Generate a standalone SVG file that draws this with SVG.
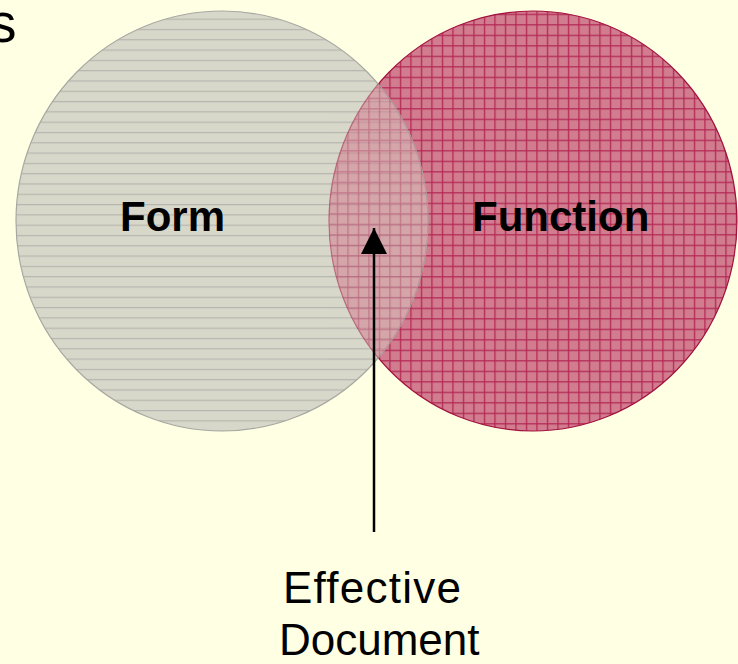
<svg xmlns="http://www.w3.org/2000/svg" width="738" height="664" viewBox="0 0 738 664">
<style>
.lbl{font-family:"Liberation Sans",Arial,sans-serif;fill:#000}
.bold{font-weight:bold;font-size:42px}
.reg{font-size:44px}
</style>
<defs>
<pattern id="hlines" patternUnits="userSpaceOnUse" x="0" y="8.3" width="20" height="10.3">
<rect width="20" height="10.3" fill="#D8D8CA"/>
<rect y="0" width="20" height="1.2" fill="#B6B6B0"/>
</pattern>
<pattern id="grid" patternUnits="userSpaceOnUse" x="0.8" y="3.2" width="10.5" height="10.5">
<rect width="10.5" height="10.5" fill="#D27D8F"/>
<rect x="0" y="0" width="1.3" height="10.5" fill="#B42A55"/>
<rect x="0" y="0" width="10.5" height="1.3" fill="#B42A55"/>
</pattern>
<clipPath id="leftClip"><ellipse cx="222" cy="221" rx="206" ry="210"/></clipPath>
<marker id="arrow" viewBox="0 0 26 26" refX="26" refY="13" markerWidth="26" markerHeight="26" markerUnits="userSpaceOnUse" orient="auto">
<path d="M0,0 L26,13 L0,26 Z" fill="#000"/>
</marker>
</defs>
<rect width="738" height="664" fill="#FFFFE3"/>
<text class="lbl" x="-11" y="42" font-size="55">s</text>
<g id="function-circle">
<ellipse cx="533" cy="221" rx="204" ry="210" fill="url(#grid)" stroke="#A3123F" stroke-width="1.2"/>
</g>
<g id="form-circle">
<ellipse cx="222" cy="221" rx="206" ry="210" fill="url(#hlines)" stroke="#A8A8A2" stroke-width="1.2"/>
</g>
<g id="overlap" clip-path="url(#leftClip)" opacity="0.55">
<ellipse cx="533" cy="221" rx="204" ry="210" fill="url(#grid)" stroke="#A3123F" stroke-width="1.2"/>
</g>
<g id="form-label"><text class="lbl bold" x="120" y="231">Form</text></g>
<g id="function-label"><text class="lbl bold" x="472" y="231">Function</text></g>
<g id="connectors">
<line x1="374" y1="532" x2="374" y2="228" stroke="#000" stroke-width="2.5" marker-end="url(#arrow)"/>
</g>
<g id="effective-document">
<text class="lbl reg" x="283" y="603" textLength="178" lengthAdjust="spacing">Effective</text>
<text class="lbl reg" x="279" y="655">Document</text>
</g>
</svg>
